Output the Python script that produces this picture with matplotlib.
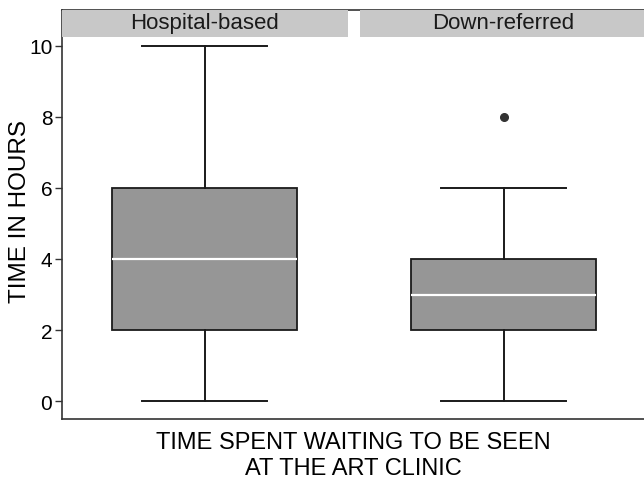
import matplotlib
matplotlib.use("Agg")
import matplotlib.pyplot as plt
from matplotlib.patches import Rectangle
import matplotlib.transforms as mtransforms

plt.rcParams['font.family'] = ['Liberation Sans', 'DejaVu Sans']

groups = ["Hospital-based", "Down-referred"]
whisker_low = [0, 0]
q1 = [2, 2]
median = [4, 3]
q3 = [6, 4]
whisker_high = [10, 6]
outliers = [[], [8]]

stats = []
for i, g in enumerate(groups):
    stats.append(dict(label=g, whislo=whisker_low[i], q1=q1[i], med=median[i],
                      q3=q3[i], whishi=whisker_high[i], fliers=outliers[i]))

fig = plt.figure(figsize=(6.44, 4.81), dpi=100)
ax = fig.add_axes([62/644, 1-420/481, 1-62/644, (420-11)/481])

ax.bxp(stats, positions=[1, 2], widths=0.617, patch_artist=True,
       showfliers=True,
       boxprops=dict(facecolor='#969696', edgecolor='#1a1a1a', linewidth=1.3),
       medianprops=dict(color='white', linewidth=1.6),
       whiskerprops=dict(color='#1a1a1a', linewidth=1.4),
       capprops=dict(color='#1a1a1a', linewidth=1.4),
       capwidths=0.417,
       flierprops=dict(marker='o', markerfacecolor='#333333', markeredgecolor='#333333',
                       markersize=5.5))

ax.set_xlim(0.523, 2.47)
ax.set_ylim(-0.5, 11.0)
ax.set_yticks([0, 2, 4, 6, 8, 10])
ax.set_xticks([])
ax.tick_params(axis='y', direction='out', length=5, width=1, color='#333333',
               labelsize=15, pad=2)
for s in ['left', 'bottom', 'top']:
    ax.spines[s].set_color('#333333')
    ax.spines[s].set_linewidth(1.2)
ax.spines['right'].set_visible(False)

trans = mtransforms.blended_transform_factory(ax.transData, ax.transAxes)
band_bottom = (420-38)/409
band_h = 1 - band_bottom
ax.add_patch(Rectangle((0.523, band_bottom), 1.48-0.523, band_h, transform=trans,
                       facecolor='#c8c8c8', edgecolor='none', clip_on=False, zorder=3))
ax.add_patch(Rectangle((1.52, band_bottom), 2.47-1.52, band_h, transform=trans,
                       facecolor='#c8c8c8', edgecolor='none', clip_on=False, zorder=3))
for i, g in enumerate(groups):
    ax.text(i+1, band_bottom + band_h/2 + 0.002, g, transform=trans, ha='center', va='center',
            fontsize=16, color='#1a1a1a', zorder=4)

ax.set_ylabel("TIME IN HOURS", fontsize=17.5)
ax.yaxis.set_label_coords(-31/582, 0.51)
ax.set_xlabel("TIME SPENT WAITING TO BE SEEN\nAT THE ART CLINIC", fontsize=17,
              linespacing=1.25)
ax.xaxis.set_label_coords(0.5, -(432-420)/409)

fig.savefig("out.png", dpi=100)
